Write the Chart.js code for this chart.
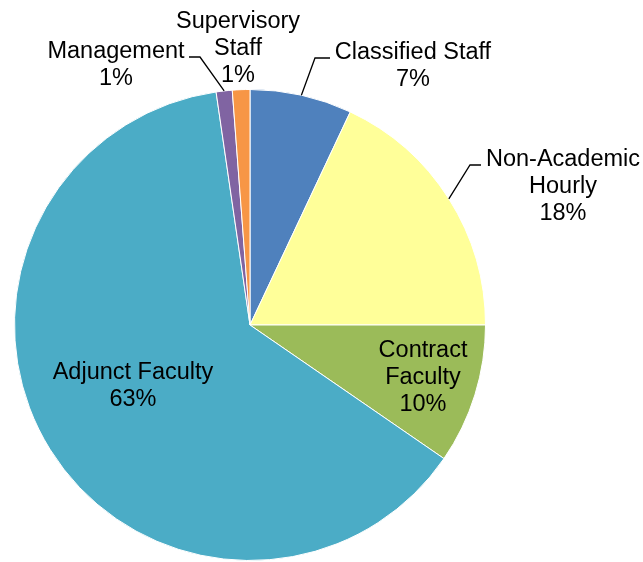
<!DOCTYPE html>
<html>
<head>
<meta charset="utf-8">
<script src="https://cdn.jsdelivr.net/npm/chart.js@4"></script>
<style>
  html, body { margin: 0; padding: 0; background: #ffffff; }
  #wrap { width: 643px; height: 562px; }
</style>
</head>
<body>
<div id="wrap"><canvas id="pieChart" width="643" height="562"></canvas></div>
<script>
// datos (porcentaje de empleados)
const categorias = ['Classified Staff', 'Non-Academic Hourly', 'Contract Faculty', 'Adjunct Faculty', 'Management', 'Supervisory Staff'];
const etiquetas = [['Classified Staff'], ['Non-Academic', 'Hourly'], ['Contract', 'Faculty'], ['Adjunct Faculty'], ['Management'], ['Supervisory', 'Staff']];
const valores = [7.0, 18.0, 9.6, 63.1, 1.1, 1.2];
const colores = ['#4F81BD', '#FFFF99', '#9BBB59', '#4BACC6', '#8064A2', '#F79646'];

// posición de cada etiqueta: centro x, primera línea base y, y codo de la línea guía (null = sin línea)
const posEtiquetas = [
    { x: 413, y: 59, codo: [315, 58], fin: [330, 58] },
    { x: 563, y: 166, codo: [470, 165], fin: [481, 165] },
    { x: 423, y: 357, codo: null },
    { x: 133, y: 379, codo: null },
    { x: 116, y: 58, codo: [200, 57], fin: [189, 57] },
    { x: 238, y: 28, codo: null }
];

const etiquetasPlugin = {
    id: 'etiquetas',
    afterDraw(chart) {
        const ctx = chart.ctx;
        const arcos = chart.getDatasetMeta(0).data;
        const total = valores.reduce((a, b) => a + b, 0);
        ctx.save();
        ctx.font = '23.5px "Liberation Sans", Arial, sans-serif';
        ctx.fillStyle = '#000000';
        ctx.textAlign = 'center';
        ctx.textBaseline = 'alphabetic';
        arcos.forEach((arco, i) => {
            const p = posEtiquetas[i];
            const lineas = etiquetas[i].concat([Math.round(valores[i] / total * 100) + '%']);
            lineas.forEach((t, j) => ctx.fillText(t, p.x, p.y + j * 27));
            if (p.codo) {
                const medio = (arco.startAngle + arco.endAngle) / 2;
                const x0 = arco.x + Math.cos(medio) * arco.outerRadius;
                const y0 = arco.y + Math.sin(medio) * arco.outerRadius;
                ctx.beginPath();
                ctx.strokeStyle = '#000000';
                ctx.lineWidth = 1.3;
                ctx.moveTo(x0, y0);
                ctx.lineTo(p.codo[0], p.codo[1]);
                ctx.lineTo(p.fin[0], p.fin[1]);
                ctx.stroke();
            }
        });
        ctx.restore();
    }
};

const ctxPie = document.getElementById('pieChart').getContext('2d');
const pieChart = new Chart(ctxPie, {
    type: 'pie',
    data: {
        labels: categorias,
        datasets: [{
            data: valores,
            backgroundColor: colores,
            borderColor: '#ffffff',
            borderWidth: 1
        }]
    },
    options: {
        responsive: false,
        animation: false,
        layout: {
            padding: { left: 14, top: 89, right: 157, bottom: 1 }
        },
        plugins: {
            legend: { display: false },
            tooltip: { enabled: false }
        }
    },
    plugins: [etiquetasPlugin]
});
</script>
</body>
</html>
